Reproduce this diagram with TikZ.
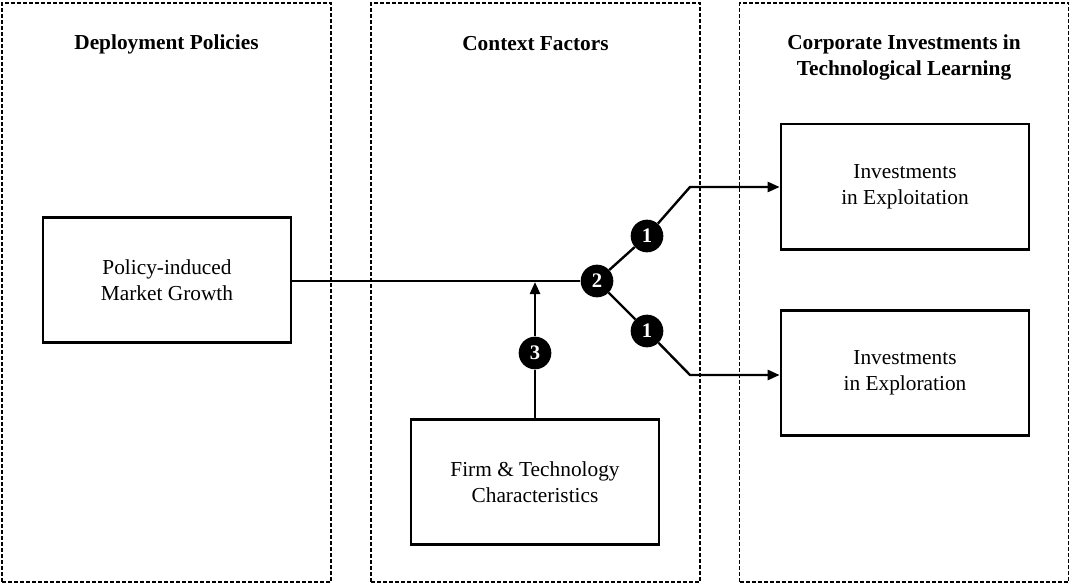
\documentclass[tikz,border=0pt]{standalone}
\usepackage{fontspec}
\setmainfont{Liberation Serif}
\usetikzlibrary{arrows.meta}
\begin{document}
\begin{tikzpicture}[x=0.75pt,y=-0.75pt,
 panel/.style={draw, dash pattern=on 3pt off 1.5pt, line width=1pt, minimum width=246.75pt, minimum height=434.25pt, inner sep=0pt},
 title/.style={font=\fontsize{16}{19.5}\selectfont\bfseries, align=center},
 box/.style={draw, line width=2pt, minimum width=186pt, minimum height=94pt, align=center, font=\fontsize{16}{19.5}\selectfont},
 num/.style={circle, fill=black, inner sep=0pt, minimum size=24.5pt, text=white, font=\fontsize{15.5}{15.5}\selectfont\bfseries},
 conn/.style={line width=1.8pt},
 arr/.style={conn, -{Triangle[length=9pt,width=7.5pt]}}
]
\useasboundingbox (0,0) rectangle (1070,586);
% panels
\node[panel] (pleft) at (166.5,292.5) {};
\node[panel] (pmid) at (535.5,292.5) {};
\node[panel] (pright) at (904,292.5) {};
% titles
\node[title] (tleft) at (166.5,44) {Deployment Policies};
\node[title] (tmid) at (535.5,44) {Context Factors};
\node[title] (tright) at (904,57) {Corporate Investments in\\Technological Learning};
% boxes
\node[box] (policy) at (167,280) {Policy-induced\\Market Growth};
\node[box] (exploit) at (905,186.5) {Investments\\in Exploitation};
\node[box] (explore) at (905,373) {Investments\\in Exploration};
\node[box] (firm) at (535,482) {Firm \& Technology\\Characteristics};
% number markers
\node[num] (c2) at (597,281) {2};
\node[num] (c1a) at (647,236) {1};
\node[num] (c1b) at (647,331) {1};
\node[num] (c3) at (535,353) {3};
\coordinate (k1) at (690,187);
\coordinate (k2) at (690,375);
\coordinate (j) at (535,282);
% connectors
\draw[conn] (policy.east |- c2) -- (c2);
\draw[conn] (c2) -- (c1a);
\draw[conn] (c2) -- (c1b);
\draw[arr] (c1a) -- (k1) -- (k1 -| exploit.west);
\draw[arr] (c1b) -- (k2) -- (k2 -| explore.west);
\draw[conn] (firm.north) -- (c3);
\draw[arr] (c3) -- (j);
\end{tikzpicture}
\end{document}
